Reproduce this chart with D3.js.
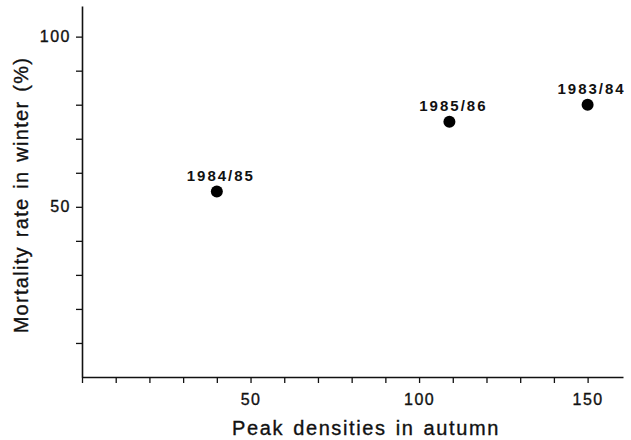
<!DOCTYPE html>
<html lang="en">
<head>
  <meta charset="UTF-8">
  <title>Mortality vs peak densities</title>
  <script src="https://d3js.org/d3.v7.min.js"></script>
  <style>
    body { margin: 0; background: #fff; }
    svg { font-family: "Liberation Sans", Arial, sans-serif; }
    .tick text { font-size: 16px; fill: #111; stroke: #111; stroke-width: 0.35px; letter-spacing: 1.5px; }
    .axis-title { font-size: 20px; fill: #111; stroke: #111; stroke-width: 0.35px; letter-spacing: 1.6px; word-spacing: 2px; }
    .pt-label { font-size: 15px; font-weight: bold; fill: #111; letter-spacing: 2px; }
  </style>
</head>
<body>
  <svg width="631" height="440"></svg>

  <script>
    // data
    const seasons = ["1984/85", "1985/86", "1983/84"];
    const peakDensity = [40, 109, 150];
    const mortality = [54.5, 75, 80];
    const xTickLabels = [50, 100, 150];
    const yTickLabels = [50, 100];

    const svg = d3.select("svg");
    const x0 = 82, y0 = 377;

    const x = d3.scaleLinear().domain([0, 160.5]).range([x0, 623]);
    const y = d3.scaleLinear().domain([0, 109]).range([y0, 6]);

    // x axis: minor ticks every 10, labels at 50/100/150
    const xAxis = d3.axisBottom(x)
      .tickValues(d3.range(0, 151, 10))
      .tickSize(6)
      .tickSizeOuter(0)
      .tickFormat(d => xTickLabels.includes(d) ? d : "");
    const gx = svg.append("g")
      .attr("transform", `translate(0,${y0})`)
      .call(xAxis);
    gx.select(".domain").attr("stroke", "#111").attr("stroke-width", 1.6);
    gx.selectAll(".tick line").attr("stroke", "#111").attr("stroke-width", 1.3);
    gx.selectAll(".tick text").attr("y", 28).attr("dy", 0);

    const yAxis = d3.axisLeft(y)
      .tickValues(d3.range(10, 101, 10))
      .tickSize(6)
      .tickSizeOuter(0)
      .tickFormat(d => yTickLabels.includes(d) ? d : "");
    const gy = svg.append("g")
      .attr("transform", `translate(${x0},0)`)
      .call(yAxis);
    gy.select(".domain").attr("stroke", "#111").attr("stroke-width", 1.6);
    gy.selectAll(".tick line").attr("stroke", "#111").attr("stroke-width", 1.3);
    gy.selectAll(".tick text").attr("x", -11);

    // points
    svg.selectAll("circle.pt")
      .data(seasons)
      .join("circle")
      .attr("class", "pt")
      .attr("cx", (d, i) => x(peakDensity[i]))
      .attr("cy", (d, i) => y(mortality[i]))
      .attr("r", 6)
      .attr("fill", "#000");

    svg.selectAll("text.pt-label")
      .data(seasons)
      .join("text")
      .attr("class", "pt-label")
      .attr("x", (d, i) => x(peakDensity[i]) + 4)
      .attr("y", (d, i) => y(mortality[i]) - 11)
      .attr("text-anchor", "middle")
      .text(d => d);

    // axis titles
    svg.append("text")
      .attr("class", "axis-title")
      .attr("x", 366)
      .attr("y", 435)
      .attr("text-anchor", "middle")
      .text("Peak densities in autumn");

    svg.append("text")
      .attr("class", "axis-title")
      .attr("transform", "translate(28,195) rotate(-90)")
      .attr("text-anchor", "middle")
      .style("letter-spacing", "1.3px")
      .text("Mortality rate in winter (%)");
  </script>
</body>
</html>
